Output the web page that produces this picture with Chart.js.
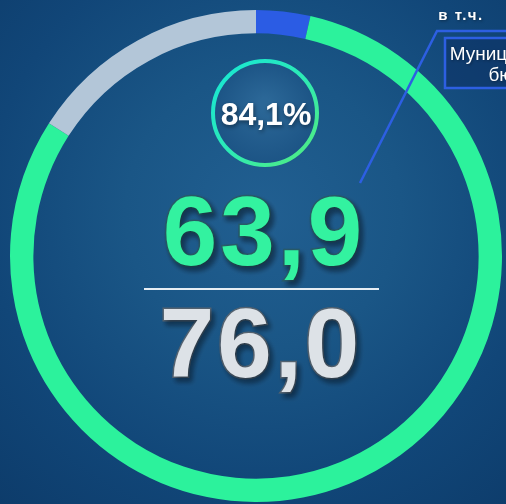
<!DOCTYPE html>
<html>
<head>
<meta charset="utf-8">
<script src="https://cdn.jsdelivr.net/npm/chart.js@4/dist/chart.umd.min.js"></script>
<style>
  html, body { margin: 0; padding: 0; }
  body {
    width: 506px; height: 504px; overflow: hidden;
    background: radial-gradient(circle at 52% 42%, #215f91 0%, #1a5686 35%, #114678 70%, #0d3c6b 100%);
  }
  #wrap { position: relative; width: 506px; height: 504px; }
</style>
</head>
<body>
<div id="wrap"><canvas id="ring" width="506" height="504"></canvas></div>
<script>
// Budget execution ring

// segments, clockwise from the top
var categories = ["Муниципальный бюджет", "Исполнено", "Остаток"];
var values = [2.7, 61.2, 12.1];
var colors = ["#2b5ce4", "#2cf29c", "#b3c6d8"];

// figures shown in the middle
var executed = "63,9";
var planned = "76,0";
var percent = "84,1%";

// callout texts
var calloutTitle = "в т.ч.";
var calloutLines = ["Муниципальный", "бюджет"];

var centerPlugin = {
    id: "centerText",
    afterDatasetsDraw: function(chart) {
        var ctx = chart.ctx;
        var arc = chart.getDatasetMeta(0).data[0];
        var cx = arc.x, cy = arc.y;

        ctx.save();

        // small circle with the percent
        var px = cx + 9, py = cy - 143, pr = 52;
        var fill = ctx.createRadialGradient(px, py - 10, 5, px, py, pr);
        fill.addColorStop(0, "#2b6797");
        fill.addColorStop(1, "#1c5485");
        ctx.beginPath();
        ctx.arc(px, py, pr, 0, Math.PI * 2);
        ctx.fillStyle = fill;
        ctx.fill();
        var rim = ctx.createLinearGradient(px - pr, py - pr, px + pr, py + pr);
        rim.addColorStop(0, "#16e6d6");
        rim.addColorStop(0.5, "#2ceab6");
        rim.addColorStop(1, "#55ec7c");
        ctx.lineWidth = 4;
        ctx.strokeStyle = rim;
        ctx.stroke();

        ctx.textAlign = "center";
        ctx.textBaseline = "alphabetic";
        ctx.font = "bold 32px 'Liberation Sans', Arial, sans-serif";
        ctx.shadowColor = "rgba(0,0,0,0.45)";
        ctx.shadowBlur = 4;
        ctx.shadowOffsetX = 1;
        ctx.shadowOffsetY = 2;
        ctx.fillStyle = "#ffffff";
        ctx.fillText(percent, px + 1, py + 12);

        // big numbers
        ctx.font = "bold 98px 'Liberation Sans', Arial, sans-serif";
        ctx.letterSpacing = "3px";
        ctx.shadowColor = "rgba(10,25,40,0.55)";
        ctx.shadowBlur = 5;
        ctx.shadowOffsetX = 3;
        ctx.shadowOffsetY = 4;
        ctx.lineWidth = 3;
        ctx.strokeStyle = "rgba(40,90,100,0.9)";
        ctx.strokeText(executed, cx + 8, cy + 9);
        ctx.fillStyle = "#33f2a0";
        ctx.fillText(executed, cx + 8, cy + 9);

        ctx.strokeStyle = "rgba(90,100,110,0.9)";
        ctx.strokeText(planned, cx + 5, cy + 121);
        ctx.fillStyle = "#dde2e7";
        ctx.fillText(planned, cx + 5, cy + 121);
        ctx.letterSpacing = "0px";

        // divider
        ctx.shadowColor = "transparent";
        ctx.beginPath();
        ctx.moveTo(cx - 112, cy + 33);
        ctx.lineTo(cx + 123, cy + 33);
        ctx.lineWidth = 2;
        ctx.strokeStyle = "#e6edf3";
        ctx.stroke();

        // callout
        ctx.beginPath();
        ctx.moveTo(cx + 104, cy - 73);
        ctx.lineTo(cx + 181, cy - 225);
        ctx.lineTo(cx + 260, cy - 225);
        ctx.lineWidth = 2.5;
        ctx.strokeStyle = "#2d5fe2";
        ctx.stroke();

        ctx.fillStyle = "rgba(12,50,100,0.55)";
        ctx.fillRect(cx + 189, cy - 218, 170, 50);
        ctx.strokeRect(cx + 189, cy - 218, 170, 50);

        ctx.shadowColor = "rgba(0,0,0,0.4)";
        ctx.shadowBlur = 3;
        ctx.shadowOffsetX = 1;
        ctx.shadowOffsetY = 1;
        ctx.fillStyle = "#ffffff";
        ctx.font = "bold 15px 'Liberation Sans', Arial, sans-serif";
        ctx.letterSpacing = "1.5px";
        ctx.fillText(calloutTitle, cx + 205, cy - 236);
        ctx.letterSpacing = "0px";
        ctx.font = "19px 'Liberation Sans', Arial, sans-serif";
        ctx.fillText(calloutLines[0], cx + 266, cy - 196);
        ctx.fillText(calloutLines[1], cx + 266, cy - 175);

        ctx.restore();
    }
};

var chart = new Chart(document.getElementById("ring"), {
    type: "doughnut",
    data: {
        labels: categories,
        datasets: [{
            data: values,
            backgroundColor: colors,
            borderWidth: 0,
            hoverOffset: 0
        }]
    },
    options: {
        responsive: false,
        animation: false,
        cutout: "90.5%",
        layout: { padding: { left: 10, right: 4, top: 10, bottom: 2 } },
        plugins: {
            legend: { display: false },
            tooltip: { enabled: false }
        }
    },
    plugins: [centerPlugin]
});
</script>
</body>
</html>
